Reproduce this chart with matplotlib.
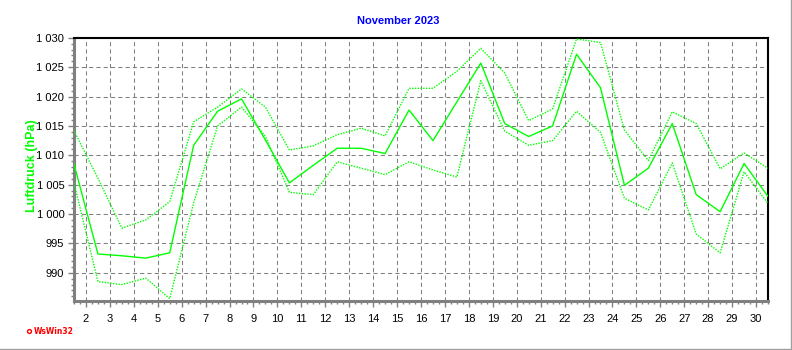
import matplotlib
matplotlib.use("Agg")
import matplotlib.pyplot as plt
from matplotlib.ticker import MultipleLocator, FuncFormatter
from matplotlib.lines import Line2D

# Luftdruck November 2023 - daily mean, max and min (hPa)
days = list(range(1, 31))

p_mean = [1008.5, 993.2, 992.9, 992.5, 993.4, 1011.7, 1017.5, 1019.6, 1012.6, 1005.3,
          1008.3, 1011.2, 1011.2, 1010.3, 1017.7, 1012.5, 1019.1, 1025.7, 1015.4, 1013.2,
          1015.0, 1027.2, 1021.5, 1004.9, 1007.8, 1015.4, 1003.3, 1000.4, 1008.6, 1003.0]

p_max = [1014.2, 1006.1, 997.6, 999.0, 1002.1, 1015.7, 1018.2, 1021.3, 1018.2, 1010.9,
         1011.6, 1013.5, 1014.6, 1013.3, 1021.4, 1021.4, 1024.3, 1028.2, 1024.0, 1015.9,
         1017.9, 1029.8, 1029.2, 1014.3, 1009.1, 1017.4, 1015.4, 1007.7, 1010.4, 1007.8]

p_min = [1005.3, 988.5, 988.0, 989.1, 985.6, 1001.9, 1015.0, 1018.2, 1013.2, 1003.7,
         1003.3, 1008.9, 1007.8, 1006.7, 1008.9, 1007.5, 1006.3, 1022.7, 1014.1, 1011.7,
         1012.5, 1017.5, 1013.9, 1002.7, 1000.7, 1008.7, 996.6, 993.4, 1007.2, 1001.8]

# values are taken at noon of each day
x = [d + 0.5 for d in days]

plt.rcParams["font.family"] = ["Liberation Sans", "DejaVu Sans"]

fig = plt.figure(figsize=(7.92, 3.5), dpi=100)
ax = fig.add_axes([74 / 792, 1 - 301 / 350, (768 - 74) / 792, (301 - 37.5) / 350])

green = "#00ff00"
ax.plot(x, p_max, color=green, lw=1.0, linestyle=(0, (1, 1)), zorder=3)
ax.plot(x, p_min, color=green, lw=1.0, linestyle=(0, (1, 1)), zorder=3)
ax.plot(x, p_mean, color=green, lw=1.0, zorder=4)

ax.set_xlim(1.5, 30.5)
ax.set_ylim(985.2, 1030.05)

# ticks
ax.xaxis.set_major_locator(MultipleLocator(1))
ax.xaxis.set_minor_locator(MultipleLocator(0.25))
ax.yaxis.set_major_locator(MultipleLocator(5))
ax.yaxis.set_minor_locator(MultipleLocator(1))
ax.set_xticks(range(2, 31))


def fmt(v, pos):
    v = int(round(v))
    if v >= 1000:
        return "%d %03d" % (v // 1000, v % 1000)
    return str(v)


ax.yaxis.set_major_formatter(FuncFormatter(fmt))
ax.tick_params(axis="both", which="major", color="#808080", labelsize=8, length=4, width=1)
ax.tick_params(axis="both", which="minor", color="#808080", length=2.5, width=1)
ax.tick_params(axis="x", which="major", pad=5)
ax.tick_params(axis="y", which="major", pad=3)

# grid
ax.grid(True, which="major", color="#808080", lw=0.75, linestyle=(0, (4, 3)), zorder=1)
ax.set_axisbelow(True)

# frame: gray left/bottom, black top/right
ax.spines["left"].set_color("#808080")
ax.spines["left"].set_linewidth(2.2)
ax.spines["bottom"].set_color("#808080")
ax.spines["bottom"].set_linewidth(2.2)
ax.spines["top"].set_color("black")
ax.spines["top"].set_linewidth(1.5)
ax.spines["right"].set_color("black")
ax.spines["right"].set_linewidth(1.5)

fig.text(398 / 792, 1 - 21 / 350, "November 2023", color="#0000ff", fontsize=8,
         fontweight="bold", ha="center", va="center")
fig.text(32 / 792, 1 - 166 / 350, "Luftdruck (hPa)", color=green, fontsize=9,
         fontweight="bold", rotation=90, ha="center", va="center")

# little logo bottom left
fig.text(34 / 792, 1 - 331 / 350, "WsWin32", color="red", fontsize=5.5,
         fontweight="bold", ha="left", va="center", family="DejaVu Sans")
fig.add_artist(Line2D([29.5 / 792], [1 - 331 / 350], marker="o", markersize=2.8,
                      color="red", markerfacecolor="white", markeredgewidth=1))

# window border right and bottom
fig.add_artist(Line2D([790.5 / 792, 790.5 / 792], [0, 1], color="#a0a0a0", lw=1))
fig.add_artist(Line2D([0, 1], [1 - 348.5 / 350, 1 - 348.5 / 350], color="#a0a0a0", lw=1))

fig.savefig("out.png", dpi=100)
